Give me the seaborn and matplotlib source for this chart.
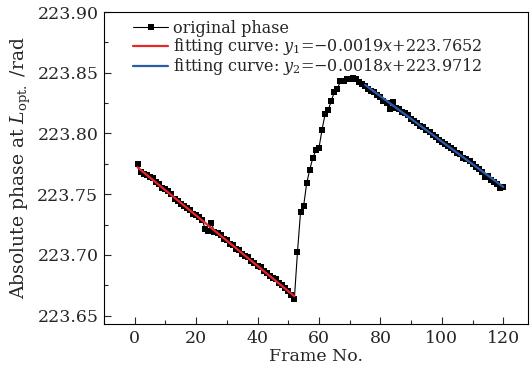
import matplotlib
matplotlib.use('Agg')
import matplotlib.pyplot as plt
import numpy as np
import pandas as pd
import seaborn as sns
from matplotlib.ticker import MultipleLocator

# Data
frames = list(range(1, 121))
phase = [
    223.775, 223.768, 223.767, 223.766, 223.764, 223.763, 223.760, 223.758, 223.755, 223.754,
    223.753, 223.750, 223.746, 223.744, 223.742, 223.740, 223.739, 223.737, 223.734, 223.733,
    223.731, 223.729, 223.721, 223.720, 223.726, 223.719, 223.718, 223.716, 223.713, 223.712,
    223.709, 223.708, 223.705, 223.704, 223.701, 223.699, 223.698, 223.695, 223.693, 223.691,
    223.690, 223.687, 223.685, 223.683, 223.681, 223.680, 223.677, 223.675, 223.673, 223.670,
    223.667, 223.664, 223.702, 223.735, 223.740, 223.759, 223.770, 223.780, 223.786, 223.788,
    223.803, 223.816, 223.819, 223.827, 223.834, 223.837, 223.843, 223.843, 223.845, 223.845,
    223.846, 223.845, 223.842, 223.841, 223.839, 223.837, 223.835, 223.834, 223.832, 223.830,
    223.827, 223.825, 223.820, 223.826, 223.821, 223.820, 223.818, 223.817, 223.815, 223.812,
    223.810, 223.809, 223.806, 223.805, 223.803, 223.801, 223.799, 223.797, 223.795, 223.793,
    223.791, 223.790, 223.788, 223.786, 223.784, 223.783, 223.780, 223.779, 223.777, 223.775,
    223.772, 223.771, 223.768, 223.764, 223.765, 223.762, 223.760, 223.758, 223.755, 223.756,
]

# fitted lines as drawn in the picture
fit1_frames = [1, 52]
fit1_phase = [223.772, 223.666]
fit2_frames = [75, 120]
fit2_phase = [223.840, 223.756]

x_ticks = [0, 20, 40, 60, 80, 100, 120]
y_ticks = [223.65, 223.70, 223.75, 223.80, 223.85, 223.90]

df = pd.DataFrame({'frame': frames, 'phase': phase})
df_fit1 = pd.DataFrame({'frame': fit1_frames, 'phase': fit1_phase})
df_fit2 = pd.DataFrame({'frame': fit2_frames, 'phase': fit2_phase})

sns.set_style('ticks')
plt.rcParams['font.family'] = ['DejaVu Serif']
plt.rcParams['mathtext.fontset'] = 'dejavuserif'
plt.rcParams['font.size'] = 12

fig = plt.figure(figsize=(5.3, 3.76), dpi=100)
ax = fig.add_axes([0.196, 0.138, 0.80, 0.83])

sns.lineplot(data=df, x='frame', y='phase', ax=ax, color='black', linewidth=0.8,
             marker='s', markersize=4.0, markeredgewidth=0, label='original phase')
sns.lineplot(data=df_fit1, x='frame', y='phase', ax=ax, color='#e8262b', linewidth=1.6,
             label=r'fitting curve: $y_1$=$-$0.0019$x$+223.7652')
sns.lineplot(data=df_fit2, x='frame', y='phase', ax=ax, color='#2a5caa', linewidth=1.6,
             label=r'fitting curve: $y_2$=$-$0.0018$x$+223.9712')

ax.set_xlim(-10, 128)
ax.set_ylim(223.643, 223.90)
ax.set_xticks(x_ticks)
ax.set_yticks(y_ticks)
ax.set_yticklabels([f'{v:.2f}' for v in y_ticks])
ax.xaxis.set_minor_locator(MultipleLocator(10))
ax.yaxis.set_minor_locator(MultipleLocator(0.025))
ax.tick_params(which='major', direction='in', length=5, width=0.8, labelsize=12.5, pad=4)
ax.tick_params(which='minor', direction='in', length=3, width=0.8)
for s in ax.spines.values():
    s.set_linewidth(0.8)
    s.set_color('black')

ax.set_xlabel('Frame No.', fontsize=12.5, labelpad=1)
ax.set_ylabel(r'Absolute phase at $L_{\rm opt.}$ /rad', fontsize=13.5, labelpad=3)

ax.legend(loc='upper left', bbox_to_anchor=(0.05, 1.0), frameon=False, fontsize=11.5,
          handlelength=2.2, handletextpad=0.3, labelspacing=-0.05, borderaxespad=0.3,
          borderpad=0.2)

fig.savefig('out.png', dpi=100)
